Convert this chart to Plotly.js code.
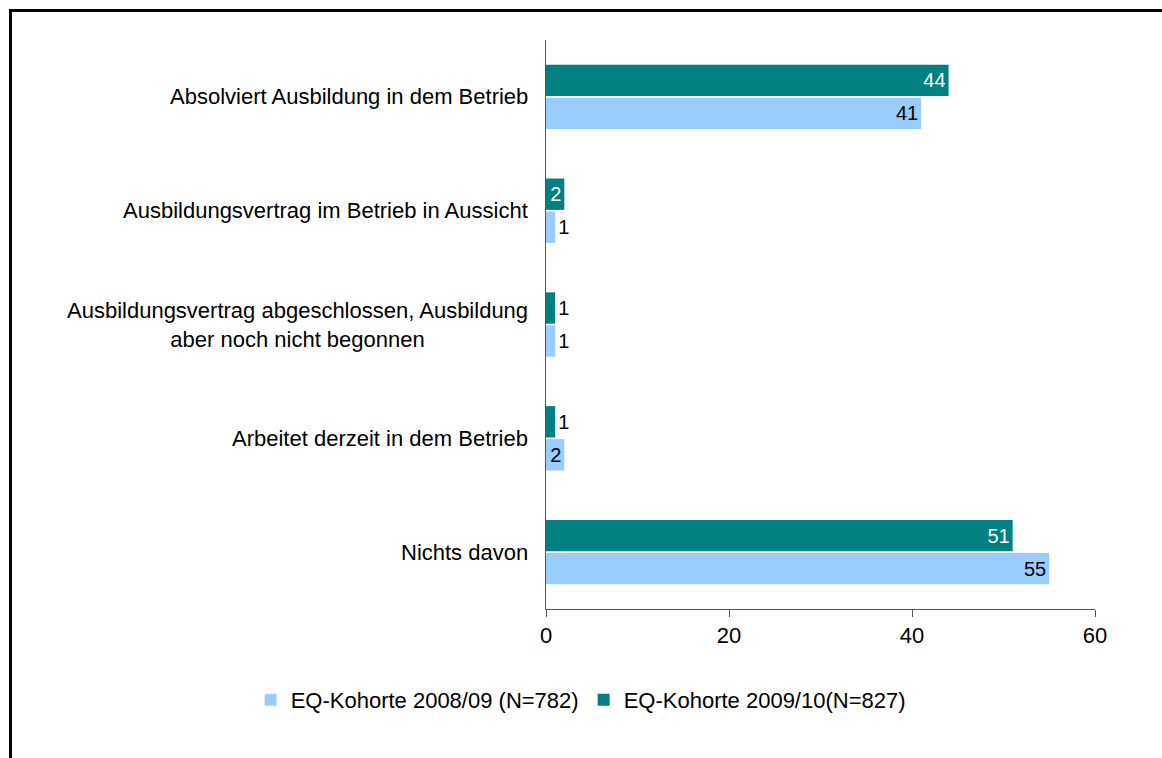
<!DOCTYPE html>
<html>
<head>
<meta charset="utf-8">
<script src="https://cdn.plot.ly/plotly-3.0.1.min.js"></script>
<style>
  html, body { margin: 0; padding: 0; background: #fff; }
  #frame { position: absolute; left: 9px; top: 9px; width: 1160px; height: 760px;
           border-left: 3px solid #000; border-top: 3px solid #000; pointer-events: none; z-index: 2; }
  #chart { position: absolute; left: 0; top: 0; width: 1162px; height: 758px; }
</style>
</head>
<body>
<div id="chart"></div>
<div id="frame"></div>
<script>
// Categories, top to bottom
const categories = [
  "Absolviert Ausbildung in dem Betrieb",
  "Ausbildungsvertrag im Betrieb in Aussicht",
  "Ausbildungsvertrag abgeschlossen, Ausbildung<br>aber noch nicht begonnen",
  "Arbeitet derzeit in dem Betrieb",
  "Nichts davon"
];
const seriesNames = ["EQ-Kohorte 2008/09 (N=782)", "EQ-Kohorte 2009/10(N=827)"];
const values2008 = [41, 1, 1, 2, 55];
const values2009 = [44, 2, 1, 1, 51];
const xTicks = [0, 20, 40, 60];

const FONT = "Liberation Sans, Arial, Helvetica, sans-serif";

const traces = [
  {
    type: "bar", orientation: "h", name: seriesNames[0],
    y: categories, x: values2008,
    marker: { color: "#99CCFF" },
    text: values2008.map(String), textposition: "auto",
    insidetextanchor: "end",
    insidetextfont: { family: FONT, size: 20, color: "#000" },
    outsidetextfont: { family: FONT, size: 20, color: "#000" },
    cliponaxis: false, hoverinfo: "x+name"
  },
  {
    type: "bar", orientation: "h", name: seriesNames[1],
    y: categories, x: values2009,
    marker: { color: "#008080" },
    text: values2009.map(String), textposition: "auto",
    insidetextanchor: "end",
    insidetextfont: { family: FONT, size: 20, color: "#fff" },
    outsidetextfont: { family: FONT, size: 20, color: "#000" },
    cliponaxis: false, hoverinfo: "x+name"
  }
];

const annotations = categories.map(c => ({
  xref: "x", yref: "y", x: 0, y: c,
  xanchor: "right", yanchor: "middle", xshift: -16,
  text: c, showarrow: false, align: "center",
  font: { family: FONT, size: 22, color: "#000" }
}));

const layout = {
  width: 1162, height: 758,
  paper_bgcolor: "rgba(0,0,0,0)", plot_bgcolor: "rgba(0,0,0,0)",
  margin: { l: 546, r: 67, t: 40, b: 149, pad: 0 },
  font: { family: FONT, size: 22, color: "#000" },
  barmode: "group", bargap: 0.42, bargroupgap: 0.05,
  showlegend: true,
  legend: {
    orientation: "h", xref: "paper", yref: "paper",
    x: -0.538, xanchor: "left", y: -0.16, yanchor: "middle",
    font: { family: FONT, size: 22, color: "#000" },
    traceorder: "normal", itemwidth: 30
  },
  xaxis: {
    range: [0, 60], tickvals: xTicks, ticktext: xTicks.map(String),
    showgrid: false, zeroline: false,
    showline: true, linecolor: "#555", linewidth: 1,
    ticks: "outside", ticklen: 7, tickcolor: "#555", tickwidth: 1,
    tickfont: { family: FONT, size: 22, color: "#000" },
    fixedrange: true
  },
  yaxis: {
    categoryorder: "array", categoryarray: categories.slice().reverse(),
    showticklabels: false, ticks: "",
    showgrid: false, zeroline: false,
    showline: true, linecolor: "#555", linewidth: 1,
    fixedrange: true
  },
  annotations: annotations
};

Plotly.newPlot("chart", traces, layout, { displayModeBar: false, staticPlot: true });
</script>
</body>
</html>
